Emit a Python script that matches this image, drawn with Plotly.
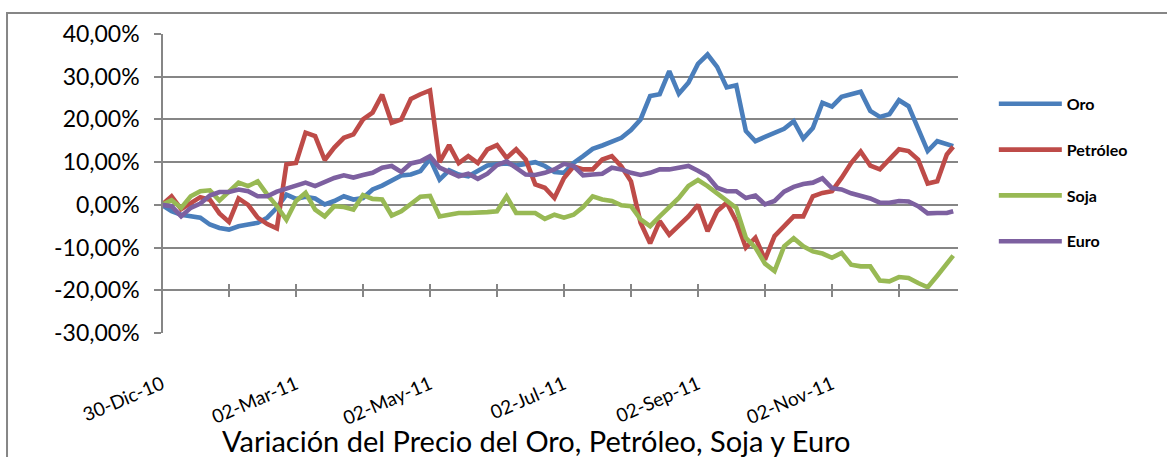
import plotly.graph_objects as go

# Trading-day index of each sampled point (categories on the x axis)
indices = [0, 3, 6, 9, 12, 15, 18, 21, 24, 27, 30, 33, 36, 39, 42, 45, 48, 51, 54, 57,
           60, 63, 66, 69, 72, 75, 78, 81, 84, 87, 90, 93, 96, 99, 102, 105, 108, 111,
           114, 117, 120, 123, 126, 129, 132, 135, 138, 141, 144, 147, 150, 153, 156,
           159, 162, 165, 168, 171, 174, 177, 180, 183, 186, 189, 192, 195, 198, 201,
           204, 207, 210, 213, 216, 219, 222, 225, 228, 231, 234, 237, 240, 243, 246, 248]

oro = [0, -1.5, -2.3, -2.7, -3.0, -4.6, -5.4, -5.8, -5.0, -4.6, -4.2, -3.0, -0.7, 2.4,
       1.4, 1.9, 1.5, 0.1, 0.9, 2.0, 1.25, 1.6, 3.6, 4.5, 5.8, 6.9, 7.1, 7.9, 10.8,
       5.9, 8.1, 7.1, 6.7, 7.9, 9.2, 9.5, 9.7, 9.2, 9.5, 10.0, 9.1, 7.7, 7.5, 9.8,
       11.4, 13.1, 13.9, 14.9, 15.7, 17.5, 20.0, 25.5, 25.9, 31.3, 26.0, 28.6, 33.0,
       35.2, 32.3, 27.5, 28.0, 17.3, 14.9, 15.9, 16.9, 17.8, 19.6, 15.5, 18.0, 23.9,
       23.0, 25.3, 25.9, 26.5, 22.0, 20.6, 21.2, 24.5, 23.1, 18.0, 12.6, 14.9, 14.1, 13.75]

petroleo = [0, 2.0, -1.0, 0.5, 1.8, 1.2, -2.0, -4.0, 1.5, 0.0, -3.0, -4.5, -5.5, 9.5,
            9.8, 16.9, 16.1, 10.5, 13.4, 15.7, 16.5, 20.0, 21.6, 25.8, 19.2, 20.0, 24.8,
            25.9, 26.8, 10.0, 14.0, 9.8, 11.4, 9.8, 13.0, 14.0, 11.0, 13.0, 10.6, 4.8,
            4.0, 1.6, 6.3, 9.0, 8.3, 8.3, 10.6, 11.4, 9.0, 5.5, -4.2, -9.0, -3.8, -7.0,
            -5.0, -2.7, 0.0, -6.2, -1.5, 0.5, -3.8, -10.0, -7.7, -12.8, -7.3, -5.0, -2.7,
            -2.7, 2.0, 2.8, 3.2, 6.3, 9.8, 12.5, 9.2, 8.3, 10.6, 13.0, 12.6, 10.6, 5.0,
            5.5, 11.8, 13.6]

soja = [0, 1.1, -0.7, 2.0, 3.2, 3.4, 1.0, 3.2, 5.2, 4.4, 5.5, 2.4, -0.3, -3.5,
        0.9, 2.8, -1.1, -2.7, -0.3, -0.5, -1.1, 2.3, 1.4, 1.25, -2.5, -1.5, 0.2, 1.9,
        2.1, -2.7, -2.3, -1.9, -1.9, -1.9, -1.7, -1.5, 2.0, -1.9, -1.9, -1.9, -3.3,
        -2.3, -3.0, -2.3, -0.5, 2.0, 1.25, 0.9, -0.1, -0.3, -3.4, -5.0, -2.7, -0.7,
        1.6, 4.4, 5.8, 4.4, 2.7, 1.1, -0.7, -7.7, -10.0, -13.75, -15.5, -9.7, -7.8,
        -9.7, -10.9, -11.4, -12.4, -11.25, -14.0, -14.4, -14.4, -17.7, -17.9, -16.9,
        -17.1, -18.3, -19.3, -16.6, -14.0, -11.9]

euro = [0, -0.3, -2.7, -0.7, 0.3, 2.2, 3.0, 3.0, 3.6, 3.2, 2.0, 2.0, 3.1, 3.8,
        4.3, 5.2, 4.4, 5.4, 6.3, 6.9, 6.4, 7.0, 7.5, 8.7, 9.1, 7.7, 9.7, 10.2, 11.4,
        8.7, 7.7, 6.7, 7.3, 6.1, 7.3, 9.3, 10.2, 8.7, 7.1, 7.0, 7.5, 8.3, 9.6, 9.1,
        6.9, 7.1, 7.3, 8.7, 8.3, 7.5, 7.0, 7.5, 8.3, 8.3, 8.7, 9.1, 8.0, 6.7, 4.0,
        3.2, 3.2, 1.6, 2.2, 0.1, 0.9, 3.1, 4.2, 4.9, 5.2, 6.2, 3.9, 3.6, 2.7, 2.0,
        1.5, 0.5, 0.5, 0.9, 0.8, -0.3, -2.0, -1.9, -1.9, -1.5]

series_nombres = ["Oro", "Petróleo", "Soja", "Euro"]
series_colores = ["#4a7ebb", "#be4b48", "#98b954", "#7d60a0"]

etiquetas_fechas = ["30-Dic-10", "02-Mar-11", "02-May-11", "02-Jul-11", "02-Sep-11", "02-Nov-11"]
pos_etiquetas = [0, 42, 84, 126, 168, 210]
marcas_x = list(range(0, 232, 21))

y_vals = [-30, -20, -10, 0, 10, 20, 30, 40]
y_text = [f"{v},00%" for v in y_vals]

titulo = "Variación del Precio del Oro, Petróleo, Soja y Euro"

GRIS = "#868686"
FUENTE = "Lato"

fig = go.Figure()
for nombre, datos, color in zip(series_nombres, [oro, petroleo, soja, euro], series_colores):
    fig.add_trace(go.Scatter(
        x=indices, y=datos, name=nombre, mode="lines",
        line=dict(color=color, width=4.6),
        legendgroup=nombre,
    ))

# empty traces so the helper axes are drawn
fig.add_trace(go.Scatter(x=[], y=[], xaxis="x2", showlegend=False, hoverinfo="skip"))
fig.add_trace(go.Scatter(x=[], y=[], xaxis="x3", showlegend=False, hoverinfo="skip"))

x_range = [0, 249.5]
y_range = [-30, 40]
pos_eje = (-20 - y_range[0]) / (y_range[1] - y_range[0])

fig.update_layout(
    width=1167, height=457,
    margin=dict(l=162, r=209, t=34, b=124, autoexpand=False),
    paper_bgcolor="white", plot_bgcolor="white",
    font=dict(family=FUENTE, color="black"),
    showlegend=True,
    xaxis=dict(
        domain=[0, 1], range=x_range, anchor="free", position=pos_eje,
        showline=True, linecolor=GRIS, linewidth=1.5,
        ticks="outside", ticklen=6, tickwidth=1.5, tickcolor=GRIS,
        tickmode="array", tickvals=marcas_x, showticklabels=False,
        showgrid=False, zeroline=False,
    ),
    xaxis2=dict(
        overlaying="x", range=x_range, anchor="free", position=pos_eje,
        showline=False, ticks="inside", ticklen=6, tickwidth=1.5, tickcolor=GRIS,
        tickmode="array", tickvals=marcas_x, showticklabels=False,
        showgrid=False, zeroline=False,
    ),
    xaxis3=dict(
        overlaying="x", range=x_range, anchor="y", side="bottom",
        showline=False, ticks="", tickmode="array",
        tickvals=pos_etiquetas, ticktext=etiquetas_fechas,
        tickangle=-23, ticklabelstandoff=36,
        tickfont=dict(family=FUENTE, size=19, color="black"),
        showgrid=False, zeroline=False,
    ),
    yaxis=dict(
        domain=[0, 1], range=y_range, anchor="free", position=0,
        tickmode="array", tickvals=y_vals, ticktext=y_text,
        tickfont=dict(family=FUENTE, size=23, color="black"),
        showgrid=True, gridcolor=GRIS, gridwidth=1.5,
        showline=True, linecolor=GRIS, linewidth=1.5,
        ticks="outside", ticklen=7, tickwidth=1.5, tickcolor=GRIS,
        ticklabelstandoff=10,
        zeroline=False,
    ),
    legend=dict(
        x=1.045, xanchor="left", y=0.823, yanchor="top",
        font=dict(family=FUENTE, size=16, color="black", weight="bold"),
        itemwidth=63, tracegroupgap=22, bgcolor="rgba(0,0,0,0)",
    ),
    shapes=[dict(
        type="rect", xref="paper", yref="paper",
        x0=-0.1947, x1=1.5, y0=-0.7, y1=1.0702,
        line=dict(color=GRIS, width=2), fillcolor="rgba(0,0,0,0)",
        layer="below",
    )],
    annotations=[dict(
        text=titulo, xref="paper", yref="paper",
        x=0.471, y=-0.36, xanchor="center", yanchor="middle",
        showarrow=False, font=dict(family=FUENTE, size=29, color="black"),
    )],
)

fig.write_html("out.html", config={"displayModeBar": False},
               post_script="document.body.style.margin='0px';")
